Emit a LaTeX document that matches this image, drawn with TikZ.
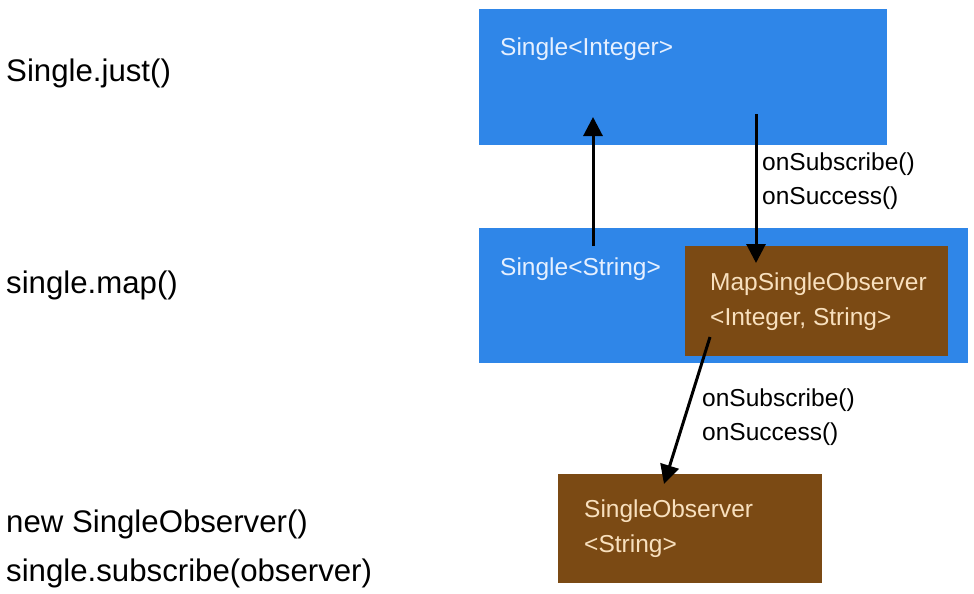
\documentclass[tikz,border=0pt]{standalone}
\usepackage{fontspec}
\setmainfont{Liberation Sans}
\usetikzlibrary{arrows.meta}
\definecolor{boxblue}{HTML}{2F86E8}
\definecolor{boxbrown}{HTML}{7B4A14}
\definecolor{bluetext}{HTML}{E6F0FF}
\definecolor{browntext}{HTML}{F8E0BE}
\begin{document}
\begin{tikzpicture}[x=1pt,y=-1pt,
  bluebox/.style={fill=boxblue,draw=none},
  brownbox/.style={fill=boxbrown,draw=none},
  lefttext/.style={anchor=west,inner sep=0pt,font=\fontsize{31.2}{34}\selectfont,text=black},
  bluelabel/.style={anchor=west,inner sep=0pt,font=\fontsize{24.5}{28}\selectfont,text=bluetext},
  brownlabel/.style={anchor=west,inner sep=0pt,font=\fontsize{24.5}{28}\selectfont,text=browntext},
  calllabel/.style={anchor=west,inner sep=0pt,font=\fontsize{24.5}{28}\selectfont,text=black},
  flow/.style={line width=3pt,-{Triangle[width=19pt,length=19pt]}}]
\useasboundingbox (0,0) rectangle (974,594);
\fill[white] (0,0) rectangle (974,594);
% boxes
\path[bluebox] (479,9) rectangle (887,145);
\path[bluebox] (479,228) rectangle (968,363);
\path[brownbox] (685,246) rectangle (948,356);
\path[brownbox] (558,474) rectangle (822,583);
% named anchor coordinates
\coordinate (upstart) at (593,246);
\coordinate (upend) at (593,117);
\coordinate (downstart) at (756,114);
\coordinate (downend) at (756,263);
\coordinate (diagstart) at (710,337);
\coordinate (diagend) at (664,484);
% box texts
\node[bluelabel] (t1) at (500,49) {Single<Integer>};
\node[bluelabel] (t2) at (500,269) {Single<String>};
\node[brownlabel] (t3) at (710,284) {MapSingleObserver};
\node[brownlabel] (t4) at (710,319) {<Integer, String>};
\node[brownlabel] (t5) at (584,511) {SingleObserver};
\node[brownlabel] (t6) at (584,546) {<String>};
% arrows
\draw[flow] (upstart) -- (upend);
\draw[flow] (downstart) -- (downend);
\draw[flow] (diagstart) -- (diagend);
% call labels
\node[calllabel] (c1) at (762,164) {onSubscribe()};
\node[calllabel] (c2) at (762,198) {onSuccess()};
\node[calllabel] (c3) at (702,400) {onSubscribe()};
\node[calllabel] (c4) at (702,434) {onSuccess()};
% left texts
\node[lefttext] (l1) at (6,73) {Single.just()};
\node[lefttext] (l2) at (6,285) {single.map()};
\node[lefttext] (l3) at (6,524) {new SingleObserver()};
\node[lefttext] (l4) at (6,573) {single.subscribe(observer)};
\end{tikzpicture}
\end{document}
